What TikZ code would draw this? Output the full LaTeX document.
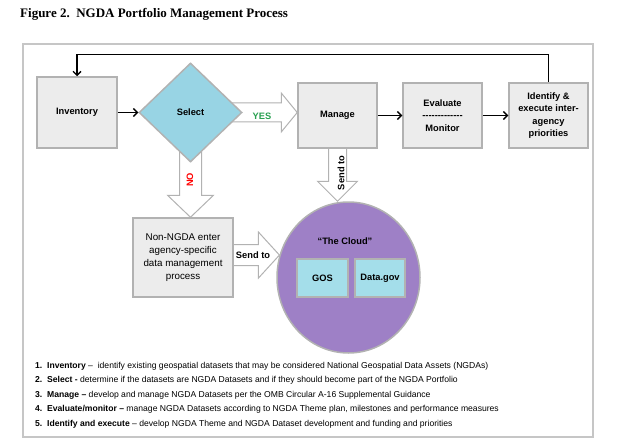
\documentclass[tikz,border=0pt]{standalone}
\usepackage{fontspec}
\setmainfont{Liberation Serif}
\setsansfont{Liberation Sans}
\usetikzlibrary{shapes.geometric,arrows.meta,calc,backgrounds}

\definecolor{selblue}{RGB}{152,212,228}
\definecolor{cloudpurple}{RGB}{158,128,198}
\definecolor{goscyan}{RGB}{164,222,234}
\definecolor{yesgreen}{RGB}{40,160,80}

\tikzset{
  procbox/.style={rectangle, draw=gray!60, line width=1.5pt, fill=gray!15,
    font=\sffamily\bfseries\fontsize{9.3}{12.5}\selectfont, align=center, inner sep=0pt},
  fatarrow/.style={draw=gray!60, line width=1pt, fill=white, line join=miter},
  flow/.style={->, line width=1.3pt},
  lbl/.style={font=\sffamily\bfseries\fontsize{9.3}{10}\selectfont, inner sep=0pt},
}

% hollow block arrow: from, to, half shaft, half head, head length
\newcommand{\fatarrow}[5]{%
  \coordinate (fa-s) at (#1);
  \coordinate (fa-t) at (#2);
  \coordinate (fa-h) at ($(fa-t)!#5!(fa-s)$);
  \path[fatarrow] ($(fa-s)!#3!90:(fa-t)$) -- ($(fa-h)!#3!-90:(fa-s)$)
    -- ($(fa-h)!#4!-90:(fa-s)$) -- (fa-t) -- ($(fa-h)!#4!90:(fa-s)$)
    -- ($(fa-h)!#3!90:(fa-s)$) -- ($(fa-s)!#3!-90:(fa-t)$) -- cycle;}

\begin{document}
\begin{tikzpicture}[x=1pt, y=-1pt, >={Straight Barb[length=4pt,width=8pt]}]
    \useasboundingbox (0,0) rectangle (637,441);

    \node[anchor=base west, font=\bfseries\fontsize{13}{15}\selectfont, inner sep=0pt] (title) at (20,18)
        {Figure 2.\ \ NGDA Portfolio Management Process};
    \draw[gray!45, line width=2pt] (23,44) rectangle (593,437);

    \node[procbox, minimum width=80pt, minimum height=71pt] (inventory) at (77,112.5) {Inventory};
    \node[diamond, draw=gray!60, line width=1.5pt, fill=selblue, minimum width=103pt, minimum height=99pt,
        inner sep=0pt, font=\sffamily\bfseries\fontsize{9.3}{10}\selectfont] (select) at (190.5,112.5) {Select};
    \node[procbox, minimum width=79pt, minimum height=65pt] (manage) at (337.5,115.5) {Manage};
    \node[procbox, minimum width=79pt, minimum height=65pt] (evaluate) at (442.5,115.5)
        {Evaluate\\{-}{-}{-}{-}{-}{-}{-}{-}{-}{-}{-}{-}{-}\\Monitor};
    \node[procbox, minimum width=79pt, minimum height=65pt] (identify) at (548.5,115.5)
        {Identify \&\\execute inter-\\agency\\priorities};
    \node[procbox, font=\sffamily\fontsize{9.8}{13}\selectfont, minimum width=100pt, minimum height=79pt]
        (nonngda) at (183,257.5) {Non-NGDA enter\\agency-specific\\data management\\process};
    \node[ellipse, draw=gray!60, line width=1.5pt, fill=cloudpurple, minimum width=143pt,
        minimum height=151pt] (cloud) at (348.5,277.5) {};
    \node[procbox, fill=goscyan, minimum width=51pt, minimum height=38pt] (gos) at (322.5,278) {GOS};
    \node[procbox, fill=goscyan, minimum width=50pt, minimum height=38pt] (datagov) at (380,278) {Data.gov};
    \node[lbl] (cloudname) at (345,241) {“The Cloud”};

    \begin{scope}[on background layer]
        \fatarrow{select.center}{select.center -| manage.west}{9.5pt}{19.5pt}{16pt}
        \fatarrow{select.center}{select.center |- nonngda.north}{11pt}{23pt}{22pt}
        \fatarrow{manage.center}{manage.center |- cloud.north}{9pt}{20pt}{20pt}
        \fatarrow{nonngda.center |- cloud.162}{cloud.162}{10.5pt}{23pt}{21pt}
    \end{scope}

    \node[lbl, text=yesgreen] (yes) at (262,116) {YES};
    \node[lbl, text=red, rotate=90] (no) at (190,180) {NO};
    \node[lbl, rotate=90] (sendv) at (341,173) {Send to};
    \node[lbl] (sendh) at (253,255) {Send to};

    \draw[flow] (inventory) -- (select);
    \draw[flow] (manage) -- (evaluate);
    \draw[flow] (evaluate) -- (identify);
    \draw[flow] (identify.north) -- ++(0,-28) -| (inventory.north);

    \node[anchor=north west, align=left, inner sep=0pt, font=\sffamily\fontsize{8.6}{14.5}\selectfont] (legend) at (35,362)
        {\textbf{1.\ \ Inventory} –\ \ identify existing geospatial datasets that may be considered National Geospatial Data Assets (NGDAs)\\
         \textbf{2.\ \ Select -} determine if the datasets are NGDA Datasets and if they should become part of the NGDA Portfolio\\
         \textbf{3.\ \ Manage –} develop and manage NGDA Datasets per the OMB Circular A-16 Supplemental Guidance\\
         \textbf{4.\ \ Evaluate/monitor –} manage NGDA Datasets according to NGDA Theme plan, milestones and performance measures\\
         \textbf{5.\ \ Identify and execute} – develop NGDA Theme and NGDA Dataset development and funding and priorities};
\end{tikzpicture}
\end{document}
